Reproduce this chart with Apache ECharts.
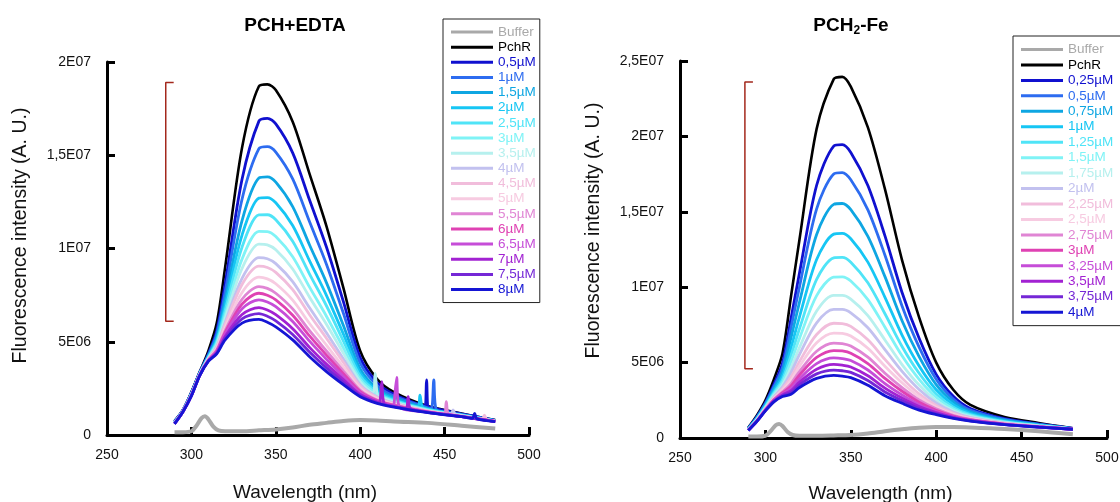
<!DOCTYPE html>
<html>
<head>
<meta charset="utf-8">
<script src="https://cdn.jsdelivr.net/npm/echarts@6/dist/echarts.min.js"></script>
<style>
  html, body { margin: 0; padding: 0; background: #fff; }
  #wrap { position: relative; width: 1120px; height: 502px; overflow: hidden; }
  .panel { position: absolute; top: 0; width: 560px; height: 502px; }
</style>
</head>
<body>
<div id="wrap">
  <div id="edta" class="panel" style="left:0"></div>
  <div id="fe" class="panel" style="left:560px"></div>
</div>
<script>
// Emission spectra, intensities in units of 1E06 (A. U.)
const wavelengths = [290, 295, 300, 305, 310, 315, 320, 330, 340, 345, 350, 360, 370, 380, 390, 400, 410, 420, 440, 460, 480];
const bufferWavelengths = [290, 295, 300, 303, 306, 308, 310, 313, 316, 320, 330, 340, 350, 360, 370, 380, 390, 400, 410, 420, 440, 460, 480];

// ---- PCH + EDTA ----
const edtaTicks = ['0', '5E06', '1E07', '1,5E07', '2E07'];
const edtaLabels = ['0,5µM', '1µM', '1,5µM', '2µM', '2,5µM', '3µM', '3,5µM', '4µM', '4,5µM', '5µM', '5,5µM', '6µM', '6,5µM', '7µM', '7,5µM', '8µM'];
const edtaBuffer = [0.15, 0.15, 0.2, 0.5, 0.9, 1.0, 0.85, 0.45, 0.25, 0.2, 0.2, 0.25, 0.3, 0.4, 0.55, 0.65, 0.75, 0.8, 0.78, 0.72, 0.65, 0.5, 0.35];
const edtaPchR = [0.75, 1.35, 2.3, 3.4, 4.5, 6.0, 9.0, 15.4, 18.7, 18.8, 18.5, 16.8, 14.0, 11.2, 7.9, 4.5, 3.0, 2.3, 1.55, 1.15, 0.8];
const edtaTitration = [
  [0.73, 1.34, 2.27, 3.37, 4.34, 5.59, 8.1, 13.71, 16.83, 16.98, 16.68, 15.13, 12.6, 10.08, 7.16, 4.15, 2.81, 2.19, 1.5, 1.13, 0.79],
  [0.71, 1.32, 2.25, 3.35, 4.28, 5.42, 7.68, 12.64, 15.35, 15.46, 15.17, 13.73, 11.43, 9.16, 6.54, 3.86, 2.66, 2.09, 1.46, 1.11, 0.78],
  [0.69, 1.31, 2.22, 3.32, 4.22, 5.24, 7.24, 11.5, 13.78, 13.84, 13.56, 12.25, 10.19, 8.17, 5.88, 3.55, 2.49, 1.99, 1.41, 1.08, 0.77],
  [0.68, 1.3, 2.2, 3.3, 4.19, 5.11, 6.93, 10.72, 12.7, 12.73, 12.45, 11.23, 9.34, 7.49, 5.42, 3.33, 2.38, 1.92, 1.38, 1.07, 0.76],
  [0.67, 1.3, 2.19, 3.29, 4.15, 5.01, 6.68, 10.07, 11.8, 11.81, 11.54, 10.39, 8.63, 6.93, 5.05, 3.16, 2.29, 1.86, 1.36, 1.06, 0.76],
  [0.66, 1.29, 2.18, 3.28, 4.12, 4.9, 6.43, 9.43, 10.92, 10.91, 10.64, 9.56, 7.93, 6.37, 4.68, 2.98, 2.2, 1.8, 1.33, 1.04, 0.75],
  [0.65, 1.28, 2.17, 3.27, 4.1, 4.82, 6.24, 8.93, 10.23, 10.19, 9.93, 8.9, 7.39, 5.94, 4.39, 2.85, 2.12, 1.76, 1.31, 1.04, 0.75],
  [0.64, 1.28, 2.15, 3.25, 4.07, 4.74, 6.03, 8.4, 9.51, 9.45, 9.19, 8.22, 6.82, 5.48, 4.09, 2.7, 2.05, 1.71, 1.29, 1.03, 0.74],
  [0.63, 1.27, 2.15, 3.25, 4.05, 4.68, 5.91, 8.07, 9.05, 8.98, 8.72, 7.79, 6.45, 5.19, 3.9, 2.61, 2.0, 1.68, 1.28, 1.02, 0.74],
  [0.63, 1.27, 2.14, 3.24, 4.03, 4.61, 5.74, 7.64, 8.46, 8.37, 8.11, 7.23, 5.98, 4.82, 3.65, 2.5, 1.94, 1.65, 1.26, 1.01, 0.73],
  [0.62, 1.26, 2.13, 3.23, 4.01, 4.56, 5.6, 7.28, 7.96, 7.86, 7.6, 6.76, 5.59, 4.51, 3.44, 2.4, 1.88, 1.61, 1.25, 1.0, 0.73],
  [0.62, 1.26, 2.12, 3.22, 4.0, 4.51, 5.5, 7.02, 7.6, 7.49, 7.24, 6.42, 5.31, 4.28, 3.29, 2.33, 1.85, 1.59, 1.24, 1.0, 0.73],
  [0.61, 1.26, 2.12, 3.22, 3.99, 4.47, 5.4, 6.77, 7.25, 7.13, 6.88, 6.09, 5.03, 4.06, 3.14, 2.26, 1.81, 1.57, 1.23, 0.99, 0.73],
  [0.61, 1.25, 2.11, 3.21, 3.97, 4.42, 5.28, 6.46, 6.83, 6.7, 6.45, 5.7, 4.7, 3.8, 2.97, 2.17, 1.77, 1.54, 1.22, 0.99, 0.72],
  [0.6, 1.25, 2.1, 3.2, 3.96, 4.39, 5.19, 6.23, 6.51, 6.37, 6.12, 5.39, 4.45, 3.6, 2.83, 2.11, 1.73, 1.52, 1.21, 0.98, 0.72],
  [0.6, 1.25, 2.1, 3.2, 3.95, 4.35, 5.1, 6.0, 6.2, 6.05, 5.8, 5.1, 4.2, 3.4, 2.7, 2.05, 1.7, 1.5, 1.2, 0.98, 0.72]
];
// Noise spikes in the 405-475 nm tail: [titration index, [[nm, value], ...]]
const edtaSpikes = [
  [6,  [[407.5, 2.27], [408.8, 3.3], [410.2, 2.1]]],
  [13, [[411.4, 1.72], [412.8, 2.86], [414.2, 1.68], [427.0, 1.43], [428.4, 2.05], [429.8, 1.41]]],
  [12, [[420.2, 1.57], [421.6, 3.09], [423.0, 1.55]]],
  [3,  [[434.0, 1.54], [435.4, 2.14], [436.8, 1.5]]],
  [0,  [[437.9, 1.57], [439.3, 2.95], [440.7, 1.49]]],
  [1,  [[442.2, 1.42], [443.6, 2.95], [445.0, 1.38]]],
  [10, [[449.6, 1.13], [451.0, 1.79], [452.4, 1.11]]],
  [7,  [[453.6, 1.11], [455.0, 1.34], [456.4, 1.08]]],
  [15, [[466.4, 0.89], [467.8, 1.16], [469.2, 0.87]]],
  [8,  [[472.2, 0.84], [473.6, 1.07], [475.0, 0.82]]]
];
const edtaBracket = [6.1, 18.9];

// ---- PCH2 - Fe ----
const feTicks = ['0', '5E06', '1E07', '1,5E07', '2E07', '2,5E07'];
const feLabels = ['0,25µM', '0,5µM', '0,75µM', '1µM', '1,25µM', '1,5µM', '1,75µM', '2µM', '2,25µM', '2,5µM', '2,75µM', '3µM', '3,25µM', '3,5µM', '3,75µM', '4µM'];
const feBuffer = [0.1, 0.1, 0.15, 0.45, 0.85, 0.93, 0.8, 0.4, 0.2, 0.15, 0.15, 0.17, 0.2, 0.3, 0.45, 0.58, 0.68, 0.73, 0.73, 0.7, 0.6, 0.45, 0.25];
const fePchR = [0.7, 1.5, 2.5, 3.9, 5.6, 9.4, 13.2, 20.5, 23.8, 23.95, 23.3, 20.6, 16.5, 11.8, 8.0, 5.0, 3.2, 2.2, 1.4, 1.0, 0.65];
const feTitration = [
  [0.65, 1.41, 2.34, 3.56, 4.96, 7.93, 10.97, 16.76, 19.36, 19.46, 18.94, 16.74, 13.4, 9.65, 6.61, 4.22, 2.77, 1.96, 1.28, 0.94, 0.63],
  [0.64, 1.37, 2.28, 3.42, 4.69, 7.32, 10.05, 15.2, 17.51, 17.6, 17.12, 15.13, 12.12, 8.76, 6.03, 3.9, 2.59, 1.85, 1.23, 0.91, 0.63],
  [0.62, 1.33, 2.2, 3.27, 4.39, 6.65, 9.03, 13.5, 15.49, 15.55, 15.14, 13.37, 10.7, 7.78, 5.4, 3.54, 2.4, 1.74, 1.18, 0.88, 0.62],
  [0.6, 1.29, 2.13, 3.12, 4.11, 6.0, 8.05, 11.84, 13.52, 13.57, 13.21, 11.66, 9.33, 6.83, 4.78, 3.2, 2.21, 1.64, 1.13, 0.85, 0.61],
  [0.58, 1.26, 2.08, 3.0, 3.88, 5.48, 7.26, 10.52, 11.95, 11.98, 11.66, 10.29, 8.24, 6.07, 4.29, 2.92, 2.05, 1.55, 1.09, 0.83, 0.61],
  [0.57, 1.23, 2.03, 2.9, 3.7, 5.06, 6.62, 9.44, 10.67, 10.69, 10.41, 9.18, 7.35, 5.45, 3.89, 2.7, 1.93, 1.48, 1.05, 0.81, 0.6],
  [0.55, 1.21, 1.99, 2.81, 3.52, 4.66, 6.01, 8.42, 9.46, 9.46, 9.21, 8.12, 6.5, 4.87, 3.51, 2.48, 1.81, 1.41, 1.02, 0.8, 0.6],
  [0.54, 1.19, 1.96, 2.73, 3.39, 4.35, 5.55, 7.64, 8.53, 8.53, 8.3, 7.31, 5.86, 4.42, 3.22, 2.32, 1.72, 1.36, 1.0, 0.78, 0.6],
  [0.54, 1.17, 1.92, 2.66, 3.25, 4.04, 5.08, 6.86, 7.61, 7.59, 7.4, 6.51, 5.21, 3.97, 2.93, 2.16, 1.63, 1.31, 0.97, 0.77, 0.59],
  [0.53, 1.16, 1.9, 2.61, 3.16, 3.83, 4.76, 6.32, 6.96, 6.94, 6.76, 5.95, 4.76, 3.66, 2.73, 2.04, 1.57, 1.27, 0.95, 0.76, 0.59],
  [0.52, 1.14, 1.88, 2.56, 3.06, 3.61, 4.42, 5.75, 6.29, 6.26, 6.1, 5.36, 4.29, 3.34, 2.52, 1.93, 1.51, 1.24, 0.94, 0.75, 0.59],
  [0.52, 1.13, 1.86, 2.53, 2.99, 3.45, 4.18, 5.34, 5.8, 5.77, 5.62, 4.94, 3.95, 3.1, 2.37, 1.84, 1.46, 1.21, 0.92, 0.74, 0.58],
  [0.51, 1.12, 1.84, 2.49, 2.92, 3.28, 3.93, 4.93, 5.31, 5.27, 5.14, 4.51, 3.61, 2.86, 2.21, 1.75, 1.41, 1.18, 0.91, 0.74, 0.58],
  [0.51, 1.11, 1.83, 2.46, 2.86, 3.14, 3.71, 4.56, 4.88, 4.83, 4.71, 4.13, 3.31, 2.65, 2.08, 1.68, 1.37, 1.16, 0.9, 0.73, 0.58],
  [0.5, 1.11, 1.81, 2.43, 2.8, 3.02, 3.53, 4.25, 4.5, 4.46, 4.35, 3.81, 3.05, 2.47, 1.96, 1.61, 1.33, 1.14, 0.89, 0.73, 0.58],
  [0.5, 1.1, 1.8, 2.4, 2.75, 2.9, 3.35, 3.95, 4.15, 4.1, 4.0, 3.5, 2.8, 2.3, 1.85, 1.55, 1.3, 1.12, 0.88, 0.72, 0.58]
];
const feSpikes = [];
const feBracket = [4.6, 23.6];

// Shared colour ramp for the titration steps
const titrationColors = ['#1010cf', '#2d6cf0', '#0ea6e2', '#16c6f4', '#4fe4f7', '#7ff3f6', '#b6f0ee', '#c2c1ef', '#f1bddb', '#f7cbe1', '#e085d4', '#df42b3', '#c64dd8', '#a222d2', '#7527d6', '#1515d4'];
const bufferColor = '#a9a9a9';
const pchrColor = '#000000';
const bracketColor = '#a3281c';

const FONT = '"Liberation Sans", Arial, Helvetica, sans-serif';

function pairs(xs, ys) { return xs.map((x, i) => [x, ys[i]]); }

function build(el, cfg) {
  const chart = echarts.init(document.getElementById(el), null, { renderer: 'canvas' });
  const legendNames = ['Buffer', 'PchR'].concat(cfg.labels);
  const legendColors = [bufferColor, pchrColor].concat(titrationColors);

  const series = [];
  series.push({
    name: 'Buffer', type: 'line', data: pairs(bufferWavelengths, cfg.buffer),
    showSymbol: false, symbol: 'none', smooth: 0.3, silent: true,
    lineStyle: { color: bufferColor, width: 4 }, itemStyle: { color: bufferColor }, z: 2
  });
  series.push({
    name: 'PchR', type: 'line', data: pairs(wavelengths, cfg.pchr),
    showSymbol: false, symbol: 'none', smooth: 0.3, silent: true,
    lineStyle: { color: pchrColor, width: 2.6 }, itemStyle: { color: pchrColor }, z: 3
  });
  cfg.titration.forEach((vals, i) => {
    let data = pairs(wavelengths, vals);
    cfg.spikes.forEach(([idx, pts]) => { if (idx === i) data = data.concat(pts); });
    data.sort((a, b) => a[0] - b[0]);
    series.push({
      name: cfg.labels[i], type: 'line', data: data,
      showSymbol: false, symbol: 'none', smooth: 0.3, silent: true,
      lineStyle: { color: titrationColors[i], width: 2.8 }, itemStyle: { color: titrationColors[i] }, z: 3
    });
  });
  // bracket spanning the quenching range
  const [lo, hi] = cfg.bracket;
  series.push({
    type: 'line', silent: true, symbol: 'none', showSymbol: false,
    data: [[cfg.bracketNm[1], hi], [cfg.bracketNm[0], hi], [cfg.bracketNm[0], lo], [cfg.bracketNm[1], lo]],
    lineStyle: { color: bracketColor, width: 1.5 }, z: 4
  });

  const axisLine = { show: true, lineStyle: { color: '#000', width: 3 } };
  const axisTick = { show: true, inside: true, length: 8, lineStyle: { color: '#000', width: 3 } };

  chart.setOption({
    animation: false,
    backgroundColor: '#fff',
    textStyle: { fontFamily: FONT },
    grid: {
      left: cfg.grid[0], top: cfg.grid[1], width: cfg.grid[2], height: cfg.grid[3],
      containLabel: false, outerBoundsMode: 'none'
    },
    xAxis: {
      type: 'value', min: 250, max: 500, interval: 50,
      axisLine: axisLine, axisTick: axisTick, splitLine: { show: false },
      axisLabel: { fontSize: 14, color: '#111', margin: 13, fontFamily: FONT },
      name: 'Wavelength (nm)', nameLocation: 'middle', nameGap: cfg.xNameGap,
      nameTextStyle: { fontSize: 19, color: '#111', fontFamily: FONT, padding: [0, 26, 0, 0] }
    },
    yAxis: {
      type: 'value', min: 0, max: (cfg.ticks.length - 1) * 5, interval: 5,
      axisLine: axisLine, axisTick: axisTick, splitLine: { show: false },
      axisLabel: {
        fontSize: 14, color: '#111', margin: 16, fontFamily: FONT,
        formatter: v => cfg.ticks[Math.round(v / 5)]
      },
      name: 'Fluorescence intensity (A. U.)', nameLocation: 'middle', nameGap: 76,
      nameTextStyle: { fontSize: 19.5, color: '#111', fontFamily: FONT, padding: [0, 0, 0, cfg.yNameShift] }
    },
    legend: {
      orient: 'vertical', left: cfg.legend[0], top: cfg.legend[1],
      padding: cfg.legendPadding, itemGap: cfg.legend[2],
      itemWidth: 42, itemHeight: 3, icon: 'rect',
      borderColor: '#222', borderWidth: 1, backgroundColor: '#fff',
      selectedMode: false,
      textStyle: { fontSize: 13.5, lineHeight: 14, fontFamily: FONT },
      data: legendNames.map((n, i) => ({ name: n, itemStyle: { color: legendColors[i] }, textStyle: { color: legendColors[i] } }))
    },
    graphic: [{
      type: 'text', x: cfg.title[1], y: cfg.title[2], silent: true,
      style: {
        text: cfg.title[0], align: 'center', verticalAlign: 'middle',
        font: 'bold 19px ' + FONT, fill: '#000',
        rich: {
          n: { font: 'bold 19px ' + FONT, fill: '#000', lineHeight: 22, verticalAlign: 'middle' },
          s: { font: 'bold 12px ' + FONT, fill: '#000', lineHeight: 12, verticalAlign: 'bottom' }
        }
      }
    }],
    series: series
  });
}

build('edta', {
  labels: edtaLabels, ticks: edtaTicks, buffer: edtaBuffer, pchr: edtaPchR,
  titration: edtaTitration, spikes: edtaSpikes, bracket: edtaBracket, bracketNm: [284.8, 289.5],
  grid: [107, 62, 422, 373], legend: [443, 19, 1.15], legendPadding: [6, 4, 6, 8],
  xNameGap: 48, yNameShift: 26,
  title: ['PCH+EDTA', 295, 26]
});
build('fe', {
  labels: feLabels, ticks: feTicks, buffer: feBuffer, pchr: fePchR,
  titration: feTitration, spikes: feSpikes, bracket: feBracket, bracketNm: [288, 292.7],
  grid: [120, 61, 427, 377], legend: [453, 36, 1.45], legendPadding: [6.5, 10, 6.5, 8],
  xNameGap: 46, yNameShift: 38,
  title: ['{n|PCH}{s|2}{n|-Fe}', 291, 26]
});
</script>
</body>
</html>
